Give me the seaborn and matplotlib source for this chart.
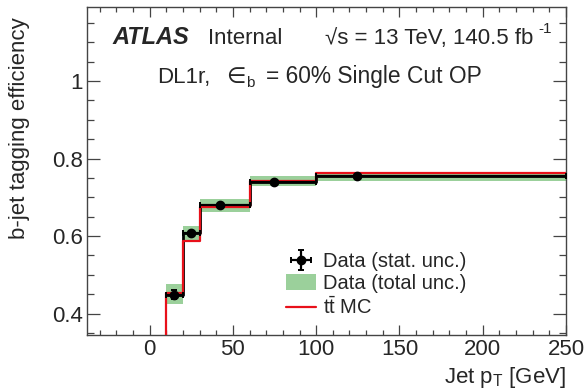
import numpy as np
import pandas as pd
import matplotlib
matplotlib.use("Agg")
import matplotlib.pyplot as plt
import seaborn as sns
from matplotlib.patches import Patch
from matplotlib.lines import Line2D
from matplotlib.ticker import MultipleLocator, FuncFormatter

# bins en pT (GeV) et efficacités
bin_edges = [10, 20, 30, 60, 100, 250]
pt_mean = [14.7, 24.6, 42.5, 74.6, 124.5]
eff_data = [0.449, 0.607, 0.679, 0.739, 0.754]
stat_err = [0.012, 0.005, 0.003, 0.002, 0.002]
tot_low = [0.425, 0.588, 0.662, 0.728, 0.743]
tot_high = [0.476, 0.625, 0.696, 0.754, 0.761]
eff_mc = [0.453, 0.588, 0.675, 0.743, 0.763]

sns.set_style("ticks")
plt.rcParams["font.family"] = ["Liberation Sans", "DejaVu Sans"]
plt.rcParams["mathtext.fontset"] = "custom"
plt.rcParams["mathtext.rm"] = "Liberation Sans"
plt.rcParams["mathtext.it"] = "Liberation Sans:italic"
plt.rcParams["mathtext.bf"] = "Liberation Sans:bold"

green = "#9bd09b"
red = "#e8101a"

fig = plt.figure(figsize=(5.85, 3.89), dpi=100)
ax = fig.add_axes([0.149, 0.139, 0.8185, 0.842])

# --- bande incertitude totale ---
widths = np.diff(bin_edges)
ax.bar(bin_edges[:-1], np.array(tot_high) - np.array(tot_low), bottom=tot_low,
       width=widths, align="edge", color=green, linewidth=0, zorder=1)

# --- data en escalier (noir) ---
steps_data = pd.DataFrame({"pt": bin_edges, "eff": eff_data + [eff_data[-1]]})
sns.lineplot(data=steps_data, x="pt", y="eff", drawstyle="steps-post", color="black",
             linewidth=2, estimator=None, sort=False, ax=ax, zorder=2)

# --- MC ttbar (rouge) ---
steps_mc = pd.DataFrame({"pt": [bin_edges[0]] + bin_edges,
                         "eff": [0] + eff_mc + [eff_mc[-1]]})
sns.lineplot(data=steps_mc, x="pt", y="eff", drawstyle="steps-post", color=red,
             linewidth=1.6, estimator=None, sort=False, ax=ax, zorder=3)

# --- points data + incertitude stat ---
xlo = np.array(pt_mean) - np.array(bin_edges[:-1])
xhi = np.array(bin_edges[1:]) - np.array(pt_mean)
err = ax.errorbar(pt_mean, eff_data, yerr=stat_err, xerr=[xlo, xhi], fmt="o",
                  color="black", markersize=6, elinewidth=1.6, capsize=2.2,
                  capthick=1.4, zorder=4)

ax.set_xlim(-37.5, 250)
ax.set_ylim(0.345, 1.19)
ax.xaxis.set_major_locator(MultipleLocator(50))
ax.xaxis.set_minor_locator(MultipleLocator(10))
ax.yaxis.set_major_locator(MultipleLocator(0.2))
ax.yaxis.set_minor_locator(MultipleLocator(0.05))
ax.yaxis.set_major_formatter(FuncFormatter(lambda v, p: f"{v:g}"))
ax.tick_params(which="both", direction="in", top=True, right=True, color="#444444",
               width=0.9, labelsize=16)
ax.tick_params(axis="x", which="major", length=7.2, pad=3)
ax.tick_params(axis="x", which="minor", length=3.6)
ax.tick_params(axis="y", which="major", length=9.7, pad=3.3)
ax.tick_params(axis="y", which="minor", length=5)
for s in ax.spines.values():
    s.set_color("#444444")
    s.set_linewidth(1)

ax.set_xlabel("Jet p$_{\\mathrm{T}}$ [GeV]", fontsize=16, loc="right")
ax.xaxis.set_label_coords(1.0, -0.093)
ax.set_ylabel("b-jet tagging efficiency", fontsize=16, loc="top")
ax.yaxis.set_label_coords(-0.12, 0.971)

# --- textes ATLAS ---
y1 = 1 - 44 / 389
y2 = 1 - 83 / 389
fig.text(112 / 585, y1, "ATLAS", fontsize=17, fontweight="bold",
         fontstyle="italic", va="baseline")
fig.text(208 / 585, y1, "Internal", fontsize=16, va="baseline")
fig.text(533 / 585, y1, "√s = 13 TeV, 140.5 fb", fontsize=16, va="baseline",
         ha="right")
fig.text(538 / 585, 1 - 33 / 389, "-1", fontsize=11, va="baseline")
fig.text(156.7 / 585, y2, "DL1r,", fontsize=16, va="baseline")
fig.text(226 / 585, y2, "∈", fontsize=16, va="baseline")
fig.text(246 / 585, 1 - 87 / 389, "b", fontsize=11, va="baseline")
fig.text(266 / 585, y2, "= 60% Single Cut OP", fontsize=16.4, va="baseline")

# --- légende ---
handles = [err, Patch(facecolor=green, linewidth=0), Line2D([], [], color=red, lw=1.6)]
labels = ["Data (stat. unc.)", "Data (total unc.)", "t$\\bar{\\mathrm{t}}$ MC"]
fig.legend(handles, labels, loc="upper left", bbox_to_anchor=(286 / 585, 1 - 252 / 389),
           frameon=False, fontsize=14.5, handlelength=1.5, handletextpad=0.35,
           labelspacing=0.15, borderpad=0, borderaxespad=0, handleheight=0.8)

fig.savefig("out.png", dpi=100)
